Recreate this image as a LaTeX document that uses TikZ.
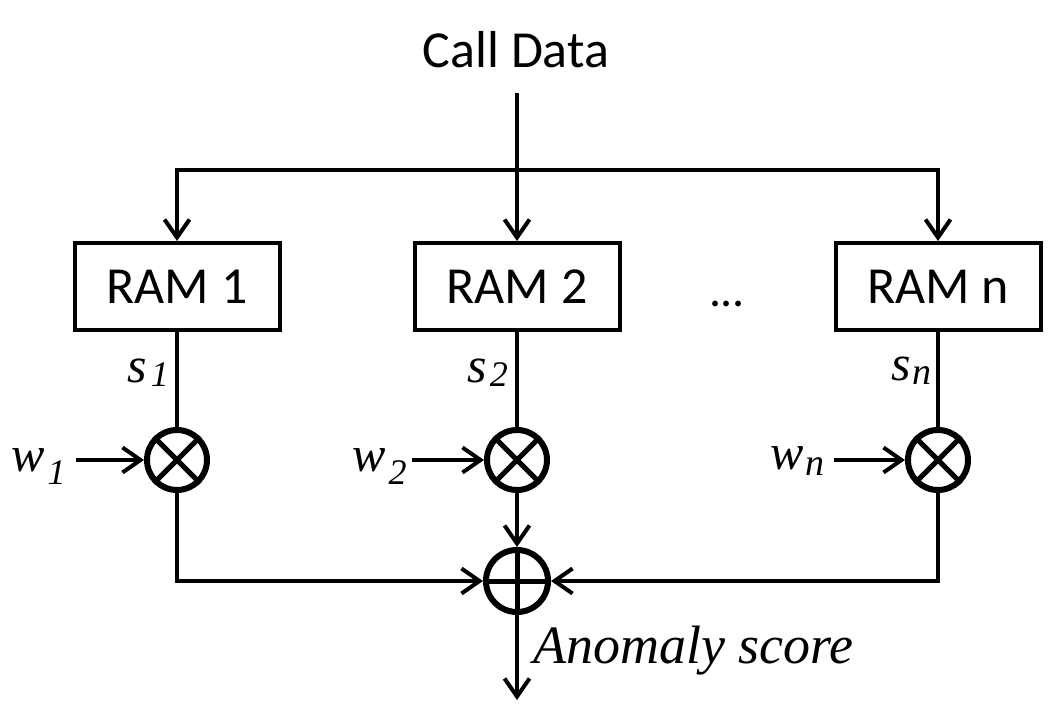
\documentclass[tikz,border=0pt]{standalone}
\usepackage{fontspec}
\setmainfont{Liberation Serif}
\newfontfamily\carl{Carlito}
\usetikzlibrary{arrows.meta}
\begin{document}
\begin{tikzpicture}[x=1pt,y=-1pt,
  conn/.style={line width=4pt},
  arr/.style={conn,-{Straight Barb[length=18pt,width=25pt]}},
  rambox/.style={draw,line width=4pt,minimum width=205pt,minimum height=87pt,inner sep=0pt,font=\carl\fontsize{52}{56}\selectfont},
  mult/.style={draw,circle,line width=6pt,minimum size=60pt,inner sep=0pt},
  lbl/.style={inner sep=0pt,font=\itshape\fontsize{50}{52}\selectfont},
  wlbl/.style={inner sep=0pt,font=\itshape\fontsize{50}{52}\selectfont}
]
\useasboundingbox (0,0) rectangle (1052,712);
\fill[white] (0,0) rectangle (1052,712);

\node[anchor=base,inner sep=0pt,font=\carl\fontsize{52}{56}\selectfont] (cdata) at (516,67) {Call Data};
\coordinate (cd) at (517,93);
\coordinate (split) at (517,170);

\node[rambox] (r1) at (177,286.5) {RAM 1};
\node[rambox] (r2) at (517,286.5) {RAM 2};
\node[rambox] (rn) at (938,286.5) {RAM n};
\node[anchor=base,inner sep=0pt,font=\carl\fontsize{48}{50}\selectfont] (dots) at (727,306) {.\kern-1pt.\kern-1pt.};

\node[mult] (m1) at (177,460) {};
\node[mult] (m2) at (517,460) {};
\node[mult] (mn) at (938,460) {};
\node[mult,minimum size=62pt] (sum) at (517,581) {};
\coordinate (out) at (517,700);

% labels s
\node[lbl,anchor=base east] (s1) at (169,382) {s\kern4pt\raisebox{-4pt}{\fontsize{36}{36}\selectfont 1}};
\node[lbl,anchor=base east] (s2) at (508,382) {s\kern3pt\raisebox{-4pt}{\fontsize{36}{36}\selectfont 2}};
\node[lbl,anchor=base east] (sn) at (932,380) {s\kern2pt\raisebox{-4pt}{\fontsize{38}{38}\selectfont n}};

% labels w
\node[wlbl,anchor=base west] (w1) at (11,471) {w\kern3pt\raisebox{-13pt}{\fontsize{36}{36}\selectfont 1}};
\node[wlbl,anchor=base west] (w2) at (352,471) {w\kern3pt\raisebox{-13pt}{\fontsize{36}{36}\selectfont 2}};
\node[wlbl,anchor=base west] (wn) at (770,469) {w\kern2pt\raisebox{-6pt}{\fontsize{38}{38}\selectfont n}};

\node[anchor=base west,inner sep=0pt,font=\itshape\fontsize{54}{56}\selectfont] (score) at (533,663) {Anomaly score};

% top distribution
\draw[arr] (cd) -- (r2.north);
\draw[arr] (split) -| (r1.north);
\draw[arr] (split) -| (rn.north);

% RAM to multipliers
\draw[conn] (r1.south) -- (m1.north);
\draw[conn] (r2.south) -- (m2.north);
\draw[conn] (rn.south) -- (mn.north);

% weights
\draw[arr] ([xshift=10pt]w1.east |- m1.west) -- (m1.west);
\draw[arr] ([xshift=5pt]w2.east |- m2.west) -- (m2.west);
\draw[arr] ([xshift=9pt]wn.east |- mn.west) -- (mn.west);

% crosses
\foreach \m in {m1,m2,mn}{
  \draw[line width=5pt] (\m.north east) -- (\m.south west);
  \draw[line width=5pt] (\m.north west) -- (\m.south east);
}

% to sum
\draw[arr] (m2.south) -- (sum.north);
\draw[arr] (m1.south) |- (sum.west);
\draw[arr] (mn.south) |- (sum.east);
\draw[line width=5pt] (sum.north) -- (sum.south);
\draw[line width=5pt] (sum.west) -- (sum.east);
\draw[arr] (sum.south) -- (out);
\end{tikzpicture}
\end{document}
